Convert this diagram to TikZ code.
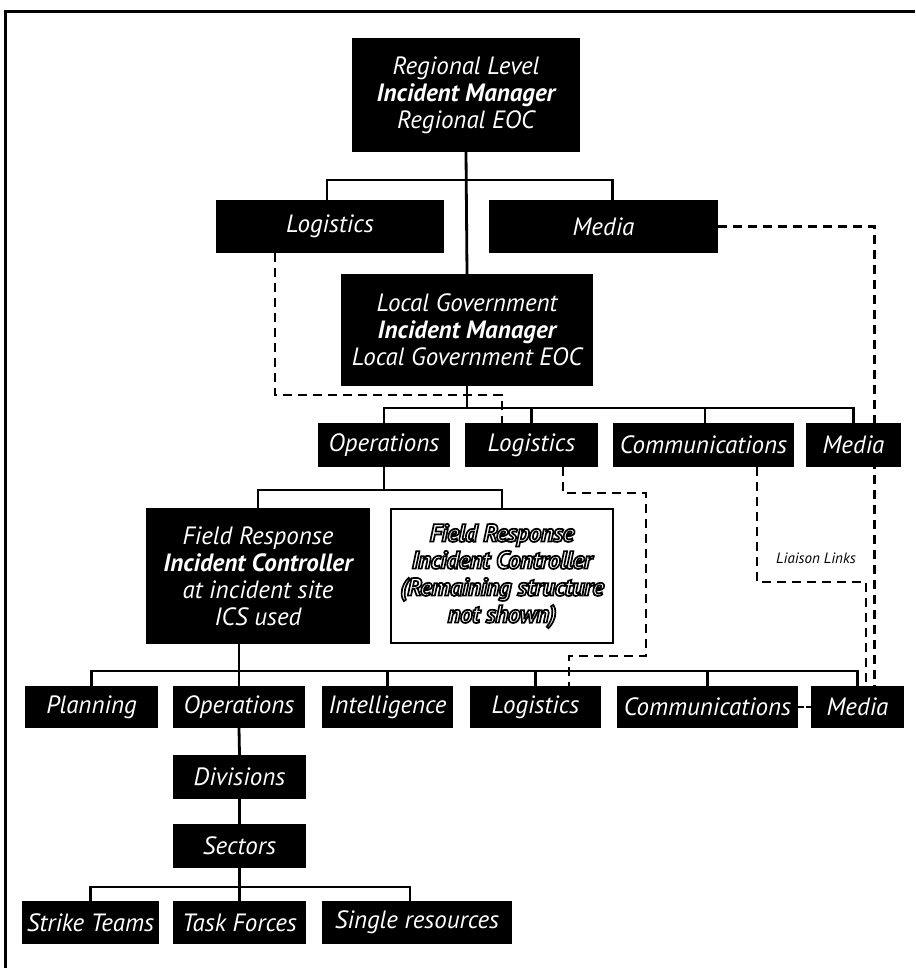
\documentclass[tikz,border=0pt]{standalone}
\usepackage{fontspec}
\setmainfont{PT Sans}
\usetikzlibrary{backgrounds}
\newcommand\boxfont{\fontsize{25}{27}\selectfont\itshape}
\newcommand\ol[1]{{\bfseries\addfontfeature{LetterSpace=-2}\special{pdf:literal direct 1 g 0 G 1.7 w 2 Tr}#1\special{pdf:literal direct 0 Tr}}}
\tikzset{
  bx/.style={fill=black, text=white, inner sep=0pt, font=\boxfont, align=center},
  wbx/.style={fill=white, draw=black, line width=2.4pt, text=white, inner sep=0pt, font=\boxfont, align=center},
  ln/.style={line width=2.8pt},
  dsh/.style={line width=2.8pt, dash pattern=on 9pt off 6pt},
}
\begin{document}
\begin{tikzpicture}[x=1pt,y=-1pt]
\useasboundingbox (0,0) rectangle (915,968);
% frame
\draw[line width=3pt] (5,968) -- (5,12) -- (915,12);
% level 1
\node[bx, minimum width=228, minimum height=114] (top) at (466,95) {Regional Level\\\textbf{Incident Manager}\\Regional EOC};
\node[bx, minimum width=228, minimum height=53] (log1) at (330,226.5) {Logistics};
\node[bx, minimum width=229, minimum height=53] (med1) at (603.5,226.5) {Media};
\node[bx, minimum width=252, minimum height=112] (lg) at (467,330) {Local Government\\\textbf{Incident Manager}\\Local Government EOC};
% level 2
\node[bx, minimum width=132, minimum height=44] (ops2) at (384,445) {Operations};
\node[bx, minimum width=133, minimum height=44] (log2) at (531.5,445) {Logistics};
\node[bx, minimum width=181, minimum height=44] (com2) at (703.5,445) {Communications};
\node[bx, minimum width=95, minimum height=44] (med2) at (853.5,445) {Media};
% field response
\node[bx, minimum width=224, minimum height=136] (fr) at (258,576) {Field Response\\\textbf{Incident Controller}\\at incident site\\ICS used};
\node[wbx, minimum width=222, minimum height=134] (frw) at (502,576) {\ol{Field Response}\\\ol{Incident Controller}\\\ol{(Remaining structure}\\\ol{not shown)}};
% level 3
\node[bx, minimum width=133, minimum height=42] (plan3) at (91.5,707) {Planning};
\node[bx, minimum width=132, minimum height=42] (ops3) at (239,707) {Operations};
\node[bx, minimum width=131, minimum height=42] (int3) at (387.5,707) {Intelligence};
\node[bx, minimum width=131, minimum height=42] (log3) at (535.5,707) {Logistics};
\node[bx, minimum width=181, minimum height=42] (com3) at (707.5,707) {Communications};
\node[bx, minimum width=93, minimum height=42] (med3) at (857.5,707) {Media};
% operations chain
\node[bx, minimum width=133, minimum height=44] (div) at (239.5,777) {Divisions};
\node[bx, minimum width=133, minimum height=44] (sec) at (239.5,846) {Sectors};
\node[bx, minimum width=137, minimum height=43] (st) at (90.5,922.5) {Strike Teams};
\node[bx, minimum width=133, minimum height=43] (tf) at (239.5,922.5) {Task Forces};
\node[bx, minimum width=190, minimum height=43] (sr) at (417,922.5) {Single resources};
% label
\node[font=\fontsize{15}{18}\selectfont\itshape, inner sep=0pt] (liaison) at (816,558) {Liaison Links};
% bus coordinates
\coordinate (b1) at (467,180);
\coordinate (b2) at (467,408);
\coordinate (b3) at (384,490);
\coordinate (b4) at (239,671);
\coordinate (b5) at (239.5,887);
\coordinate (d1) at (502,395);
\coordinate (d3a) at (646,493);
\coordinate (d3b) at (646,656);
\coordinate (d4) at (866,582);
\begin{scope}[on background layer]
  % solid tree
  \draw[ln] (top.south) -- (lg.north);
  \draw[ln] ([xshift=-3]log1.north) |- (b1) -| ([xshift=9]med1.north);
  \draw[ln] (lg.south) -- (b2);
  \draw[ln] (ops2.north) |- (b2) -| (med2.north);
  \draw[ln] (log2.north) -- (log2.north |- b2);
  \draw[ln] ([xshift=1.5]com2.north) -- ([xshift=1.5]com2.north |- b2);
  \draw[ln] (ops2.south) -- (b3);
  \draw[ln] (fr.north) |- (b3) -| (frw.north);
  \draw[ln] (fr.south -| b4) -- (ops3.north);
  \draw[ln] (plan3.north) |- (b4) -| (med3.north);
  \draw[ln] (int3.north) -- (int3.north |- b4);
  \draw[ln] (log3.north) -- (log3.north |- b4);
  \draw[ln] (com3.north) -- (com3.north |- b4);
  \draw[ln] (ops3.south) -- (div.north);
  \draw[ln] (div.south) -- (sec.north);
  \draw[ln] (sec.south) -- (tf.north);
  \draw[ln] (st.north) |- (b5) -| ([xshift=-7]sr.north);
  % liaison (dashed)
  \draw[dsh] ([xshift=-55]log1.south) |- (d1) -- (d1 |- log2.north);
  \draw[dsh] (med1.east) -| ([xshift=17]med3.north);
  \draw[dsh] ([xshift=31.5]log2.south) |- (d3a) -- (d3b) -| ([xshift=33.5]log3.north);
  \draw[dsh] ([xshift=53.5]com2.south) |- (d4) -- (d4 |- med3.north);
  \draw[line width=2.8pt, dash pattern=on 6pt off 2pt] (com3.east) -- (med3.west);
\end{scope}
\end{tikzpicture}
\end{document}
